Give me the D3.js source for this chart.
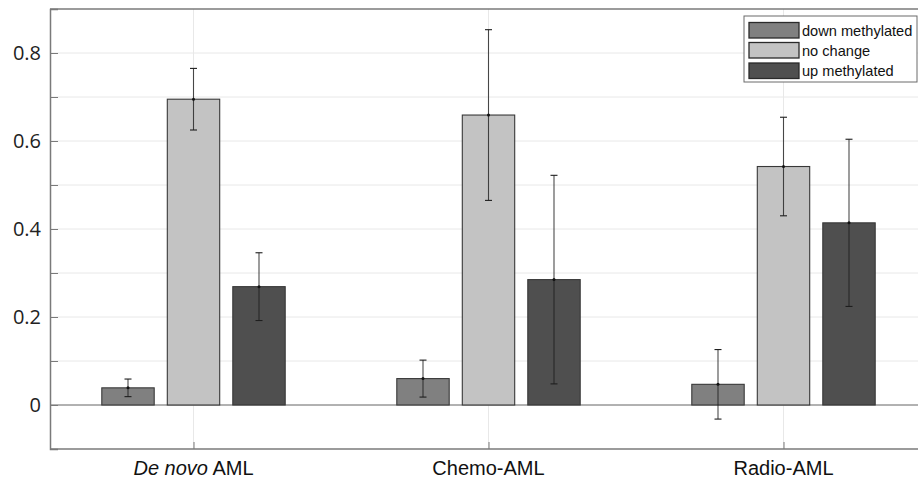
<!DOCTYPE html>
<html>
<head>
<meta charset="utf-8">
<script src="https://cdn.jsdelivr.net/npm/d3@7/dist/d3.min.js"></script>
<style>
  html, body { margin: 0; padding: 0; background: #fff; }
  svg { display: block; }
</style>
</head>
<body>
<svg id="chart" width="918" height="483"></svg>
<script>
// Groups and series
const groups = ["De novo AML", "Chemo-AML", "Radio-AML"];
const series = ["down methylated", "no change", "up methylated"];
const seriesColors = ["#808080", "#c3c3c3", "#4f4f4f"];

// Mean fraction of CpG sites per group, one array per series
const downMethylated = [0.039, 0.060, 0.047];
const noChange       = [0.695, 0.659, 0.542];
const upMethylated   = [0.269, 0.285, 0.414];

// Symmetric error half-widths, one array per series
const downErr   = [0.020, 0.042, 0.079];
const noChangeErr = [0.070, 0.194, 0.112];
const upErr     = [0.077, 0.237, 0.190];

const yTicks = [-0.1, 0, 0.1, 0.2, 0.3, 0.4, 0.5, 0.6, 0.7, 0.8, 0.9];
const yTickLabels = ["", "0", "", "0.2", "", "0.4", "", "0.6", "", "0.8", ""];

const values = [downMethylated, noChange, upMethylated];
const errors = [downErr, noChangeErr, upErr];

const svg = d3.select("#chart");
const plot = { left: 50, top: 9, right: 930, bottom: 449 };

const x = d3.scaleLinear().domain([1, 3]).range([193.5, 783.5]);
const y = d3.scaleLinear().domain([-0.1, 0.9]).range([plot.bottom, plot.top]);
const inner = d3.scaleBand().domain(series).range([-98.25, 98.25])
  .paddingInner(0.2).paddingOuter(0.1);

// Grid lines
const grid = svg.append("g");
grid.selectAll("line.h").data(yTicks.filter(t => t > -0.1 && t < 0.9)).join("line")
  .attr("x1", plot.left).attr("x2", plot.right)
  .attr("y1", d => y(d)).attr("y2", d => y(d))
  .attr("stroke", "#e8e8e8").attr("stroke-width", 1);
grid.selectAll("line.v").data(groups).join("line")
  .attr("x1", (d, i) => x(i + 1)).attr("x2", (d, i) => x(i + 1))
  .attr("y1", plot.top).attr("y2", plot.bottom)
  .attr("stroke", "#e8e8e8").attr("stroke-width", 1);

// Zero baseline
svg.append("line")
  .attr("x1", plot.left).attr("x2", plot.right)
  .attr("y1", y(0)).attr("y2", y(0))
  .attr("stroke", "#707070").attr("stroke-width", 1.2);

// Bars
const rows = [];
groups.forEach((g, gi) => {
  series.forEach((s, si) => {
    rows.push({ gi, si, s, v: values[si][gi], e: errors[si][gi] });
  });
});

svg.append("g").selectAll("rect").data(rows).join("rect")
  .attr("x", d => x(d.gi + 1) + inner(d.s))
  .attr("width", inner.bandwidth())
  .attr("y", d => y(Math.max(0, d.v)))
  .attr("height", d => Math.abs(y(d.v) - y(0)))
  .attr("fill", d => seriesColors[d.si])
  .attr("stroke", "#383838").attr("stroke-width", 1.1);

// Error bars
const eb = svg.append("g").attr("stroke", "#1e1e1e").attr("stroke-width", 1.1);
const cx = d => x(d.gi + 1) + inner(d.s) + inner.bandwidth() / 2;
eb.selectAll("line.stem").data(rows).join("line")
  .attr("x1", cx).attr("x2", cx)
  .attr("y1", d => y(d.v - d.e)).attr("y2", d => y(d.v + d.e))
  .attr("stroke-opacity", 0.8);
eb.selectAll("line.capHi").data(rows).join("line")
  .attr("x1", d => cx(d) - 3.5).attr("x2", d => cx(d) + 3.5)
  .attr("y1", d => y(d.v + d.e)).attr("y2", d => y(d.v + d.e));
eb.selectAll("line.capLo").data(rows).join("line")
  .attr("x1", d => cx(d) - 3.5).attr("x2", d => cx(d) + 3.5)
  .attr("y1", d => y(d.v - d.e)).attr("y2", d => y(d.v - d.e));
svg.append("g").selectAll("circle").data(rows).join("circle")
  .attr("cx", cx).attr("cy", d => y(d.v)).attr("r", 1.5).attr("fill", "#111");

// Axes box
const axisColor = "#7a7a7a";
svg.append("line").attr("x1", plot.left).attr("x2", plot.right)
  .attr("y1", plot.top).attr("y2", plot.top)
  .attr("stroke", axisColor).attr("stroke-width", 1.5);

// Y axis (ticks point inward)
const yAxis = d3.axisLeft(y).tickValues(yTicks)
  .tickSize(-8).tickPadding(9)
  .tickFormat((d, i) => yTickLabels[i]);
const gy = svg.append("g").attr("transform", `translate(${plot.left},0)`).call(yAxis);
gy.select(".domain").attr("stroke", axisColor).attr("stroke-width", 1.5);
gy.selectAll(".tick line").attr("stroke", axisColor);
gy.selectAll(".tick text")
  .attr("font-family", "'Open Sans', sans-serif")
  .attr("font-size", 20).attr("fill", "#222");

// X axis (ticks point inward)
const xAxis = d3.axisBottom(x).tickValues([1, 2, 3])
  .tickSize(-7).tickPadding(16).tickFormat("");
const gx = svg.append("g").attr("transform", `translate(0,${plot.bottom})`).call(xAxis);
gx.select(".domain").remove();
gx.append("line").attr("x1", plot.left).attr("x2", plot.right)
  .attr("stroke", axisColor).attr("stroke-width", 1.5);
gx.selectAll(".tick line").attr("stroke", axisColor);

// Group labels, first one partly italic
const labels = svg.append("g")
  .attr("font-family", "'Liberation Sans', Arial, sans-serif")
  .attr("font-size", 20).attr("fill", "#111").attr("text-anchor", "middle");
groups.forEach((g, gi) => {
  const t = labels.append("text").attr("x", x(gi + 1)).attr("y", 475);
  if (g.startsWith("De novo")) {
    t.append("tspan").attr("font-style", "italic").text("De novo");
    t.append("tspan").text(" AML");
  } else {
    t.text(g);
  }
});

// Legend
const lg = svg.append("g");
lg.append("rect").attr("x", 744).attr("y", 16).attr("width", 173).attr("height", 66)
  .attr("fill", "#fff").attr("stroke", "#6a6a6a").attr("stroke-width", 1);
const legendRows = [{ y: 22.5, base: 36 }, { y: 42.5, base: 55.5 }, { y: 63, base: 76 }];
series.forEach((s, i) => {
  lg.append("rect").attr("x", 749).attr("y", legendRows[i].y)
    .attr("width", 50).attr("height", 15.5)
    .attr("fill", seriesColors[i]).attr("stroke", "#2a2a2a").attr("stroke-width", 1.3);
  lg.append("text").attr("x", 802).attr("y", legendRows[i].base)
    .attr("font-family", "'Liberation Sans', Arial, sans-serif")
    .attr("font-size", 14.6).attr("fill", "#111").text(s);
});
</script>
</body>
</html>
